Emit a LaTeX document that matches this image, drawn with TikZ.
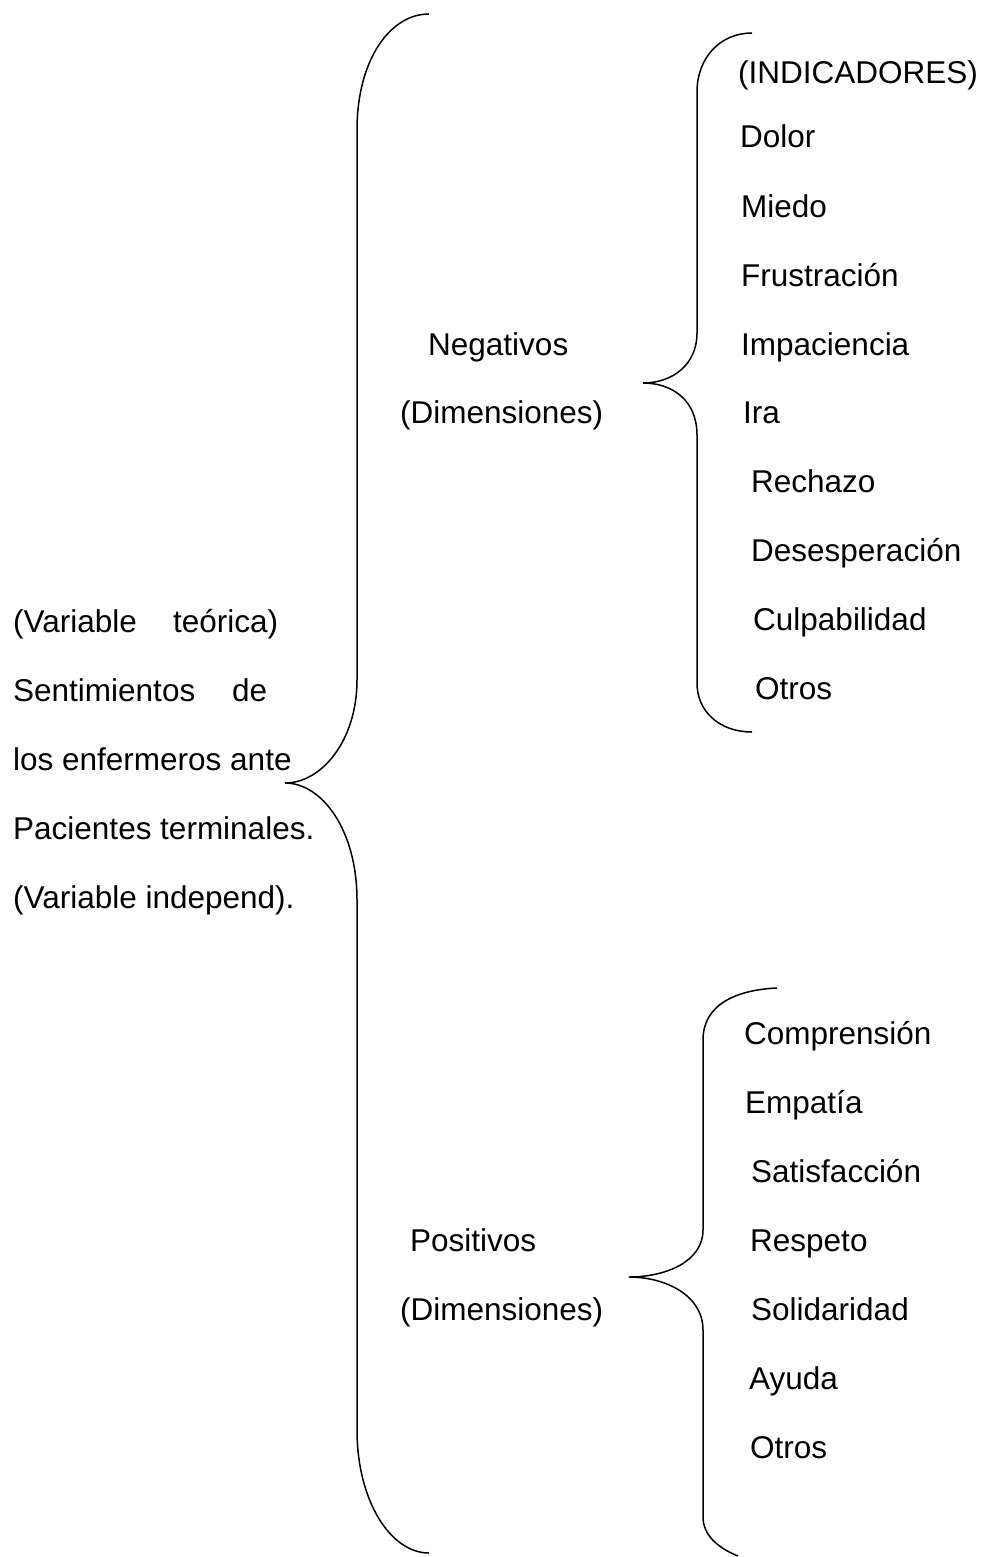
\documentclass[tikz,border=0pt]{standalone}
\usepackage{fontspec}
\setmainfont{Liberation Sans}
\begin{document}
\begin{tikzpicture}[x=1pt,y=-1pt,
  lbl/.style={anchor=base west,inner sep=0pt,font=\fontsize{31.5}{38}\selectfont},
  brace/.style={draw=black,line width=1.5pt}]
\useasboundingbox (0,0) rectangle (987,1557);
% left block
\node[lbl] (l1) at (13,632) {\makebox[265pt][s]{(Variable teórica)}};
\node[lbl] (l2) at (13,701) {\makebox[254pt][s]{Sentimientos de}};
\node[lbl] (l3) at (13,770) {los enfermeros ante};
\node[lbl] (l4) at (13,839) {Pacientes terminales.};
\node[lbl] (l5) at (13,908) {(Variable independ).};
% dimensions
\node[lbl] (neg) at (428,355) {Negativos};
\node[lbl] (negd) at (400,423) {(Dimensiones)};
\node[lbl] (pos) at (410,1251) {Positivos};
\node[lbl] (posd) at (400,1320) {(Dimensiones)};
% negative indicators
\node[lbl] (n0) at (738,84) {(INDICADORES)};
\node[lbl] (n1) at (740,148) {Dolor};
\node[lbl] (n2) at (741,217) {Miedo};
\node[lbl] (n3) at (741,286) {Frustración};
\node[lbl] (n4) at (741,355) {Impaciencia};
\node[lbl] (n5) at (743,423) {Ira};
\node[lbl] (n6) at (751,492) {Rechazo};
\node[lbl] (n7) at (751,561) {Desesperación};
\node[lbl] (n8) at (753,630) {Culpabilidad};
\node[lbl] (n9) at (755,699) {Otros};
% positive indicators
\node[lbl] (p1) at (744,1044) {Comprensión};
\node[lbl] (p2) at (745,1113) {Empatía};
\node[lbl] (p3) at (751,1182) {Satisfacción};
\node[lbl] (p4) at (750,1251) {Respeto};
\node[lbl] (p5) at (751,1320) {Solidaridad};
\node[lbl] (p6) at (749,1389) {Ayuda};
\node[lbl] (p7) at (750,1458) {Otros};
% big brace
\coordinate (bigtip) at (285,783);
\path[brace] (429,14) .. controls (390,14) and (357,60) .. (357,130) -- (357,680)
  .. controls (357,740) and (322,783) .. (bigtip)
  .. controls (322,783) and (357,830) .. (357,900) -- (357,1430)
  .. controls (357,1500) and (390,1553) .. (429,1553);
% negative brace
\coordinate (negtip) at (643,383);
\path[brace] (752,33) .. controls (720,33) and (697,58) .. (697,92) -- (697,333)
  .. controls (697,365) and (672,383) .. (negtip)
  .. controls (672,383) and (697,400) .. (697,435) -- (697,683)
  .. controls (697,712) and (720,732) .. (752,732);
% positive brace
\coordinate (postip) at (629,1277);
\path[brace] (777,988) .. controls (735,990) and (703,1005) .. (703,1040) -- (703,1230)
  .. controls (703,1262) and (665,1277) .. (postip)
  .. controls (665,1277) and (703,1295) .. (703,1330) -- (703,1517)
  .. controls (703,1535) and (718,1548) .. (738,1556);
\end{tikzpicture}
\end{document}
